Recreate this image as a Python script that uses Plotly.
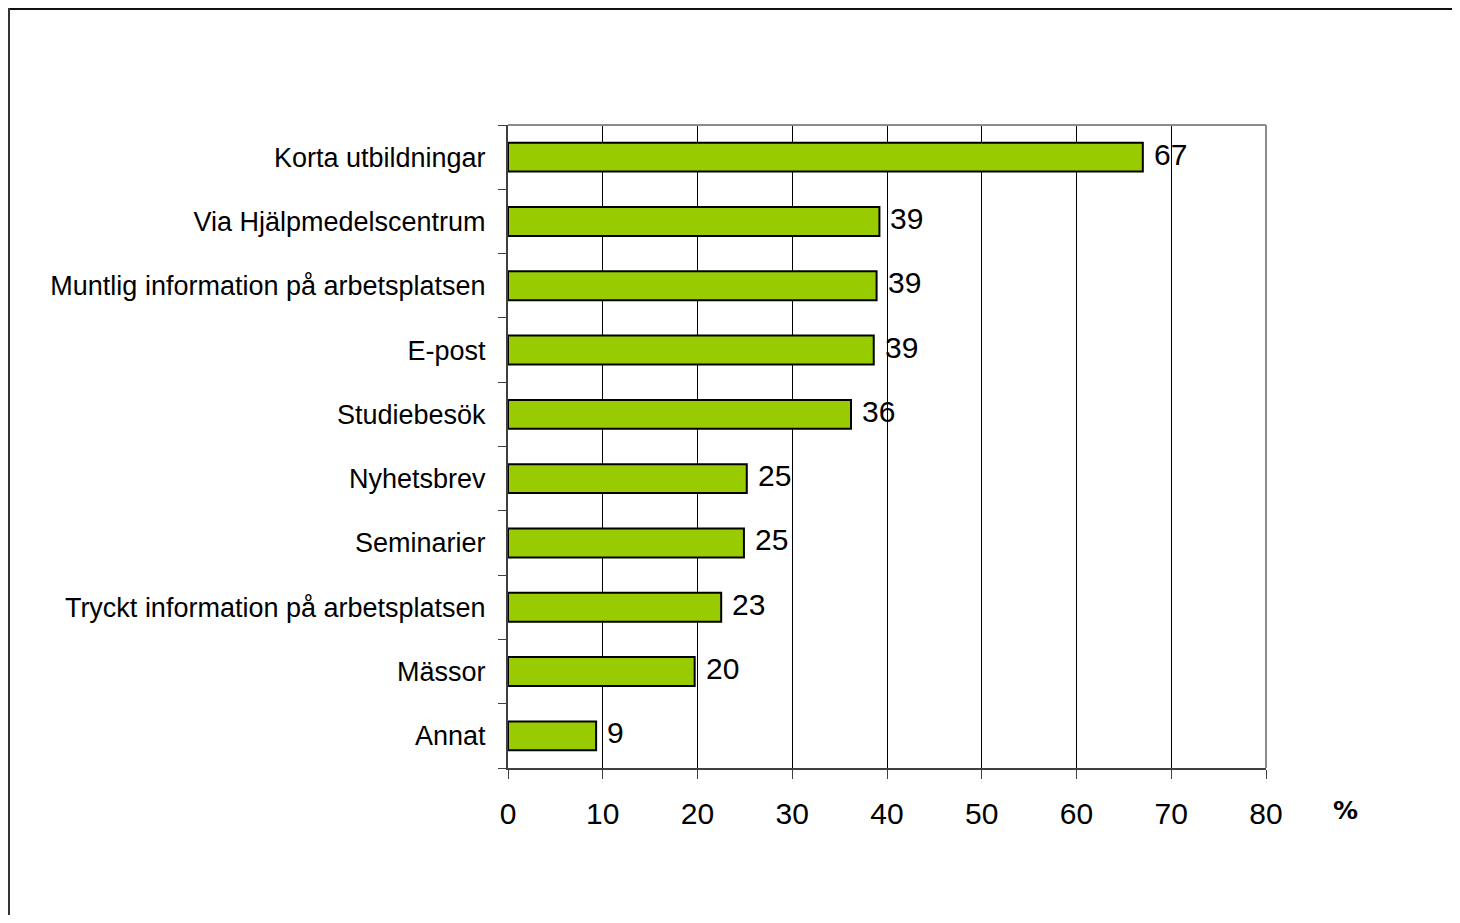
import plotly.graph_objects as go

categories = [
    "Korta utbildningar",
    "Via Hjälpmedelscentrum",
    "Muntlig information på arbetsplatsen",
    "E-post",
    "Studiebesök",
    "Nyhetsbrev",
    "Seminarier",
    "Tryckt information på arbetsplatsen",
    "Mässor",
    "Annat",
]
values = [67.0, 39.2, 38.9, 38.6, 36.2, 25.2, 24.9, 22.5, 19.7, 9.3]
labels = ["67", "39", "39", "39", "36", "25", "25", "23", "20", "9"]
x_ticks = [0, 10, 20, 30, 40, 50, 60, 70, 80]

# page has an 8px body margin; keep the figure inside the viewport
OFF = 8
W, H = 1460 - 2 * OFF, 923 - 2 * OFF
L, T = 508 - OFF, 125 - OFF
pw, ph = 758, 643
R, B = W - L - pw, H - T - ph

fig = go.Figure()
fig.add_trace(go.Bar(
    x=values, y=categories, orientation="h",
    marker=dict(color="#99CC00", line=dict(color="black", width=2)),
    width=0.45, hoverinfo="skip",
))

for c, v, t in zip(categories, values, labels):
    fig.add_annotation(x=v, y=c, text=t, showarrow=False, xanchor="left",
                       xshift=9, yshift=3,
                       font=dict(family="Liberation Sans", size=30, color="black"))

fig.add_annotation(xref="paper", yref="paper",
                   x=(1345 - OFF - L) / pw, y=(H - B - (810 - OFF)) / ph,
                   xanchor="center", yanchor="middle",
                   text="<b>%</b>", showarrow=False,
                   font=dict(family="DejaVu Sans", size=25, color="black"))

# plot frame top/right (gray)
fig.add_shape(type="line", xref="paper", yref="paper", x0=0, x1=1, y0=1, y1=1,
              line=dict(color="#8c8c8c", width=2), layer="above")
fig.add_shape(type="line", xref="paper", yref="paper", x0=1, x1=1, y0=0, y1=1,
              line=dict(color="#8c8c8c", width=2), layer="above")
# outer border (top and left visible)
fig.add_shape(type="line", xref="paper", yref="paper",
              x0=(0 - L) / pw, x1=(W + 20 - L) / pw,
              y0=(H - B - 1) / ph, y1=(H - B - 1) / ph,
              line=dict(color="#111111", width=2))
fig.add_shape(type="line", xref="paper", yref="paper",
              x0=(1 - L) / pw, x1=(1 - L) / pw,
              y0=(H - B - (H + 20)) / ph, y1=(H - B - 0) / ph,
              line=dict(color="#333333", width=2))

fig.update_layout(
    width=W, height=H,
    margin=dict(l=L, r=R, t=T, b=B),
    plot_bgcolor="white", paper_bgcolor="white",
    showlegend=False,
    font=dict(family="Liberation Sans", color="black"),
    xaxis=dict(range=[0, 80], tickvals=x_ticks, showgrid=True,
               gridcolor="black", gridwidth=1, zeroline=False,
               showline=True, linecolor="#404040", linewidth=2,
               ticks="outside", ticklen=9, tickcolor="#404040", tickwidth=1,
               tickfont=dict(family="Liberation Sans", size=30),
               ticklabelstandoff=9),
    yaxis=dict(categoryorder="array", categoryarray=categories[::-1],
               showline=True, linecolor="#404040", linewidth=2,
               ticks="outside", ticklen=8, tickcolor="#404040", tickwidth=1,
               tickson="boundaries", showgrid=False,
               tickfont=dict(family="Liberation Sans", size=27),
               ticklabelstandoff=15),
    bargap=0.55,
)

fig.write_html("out.html")
